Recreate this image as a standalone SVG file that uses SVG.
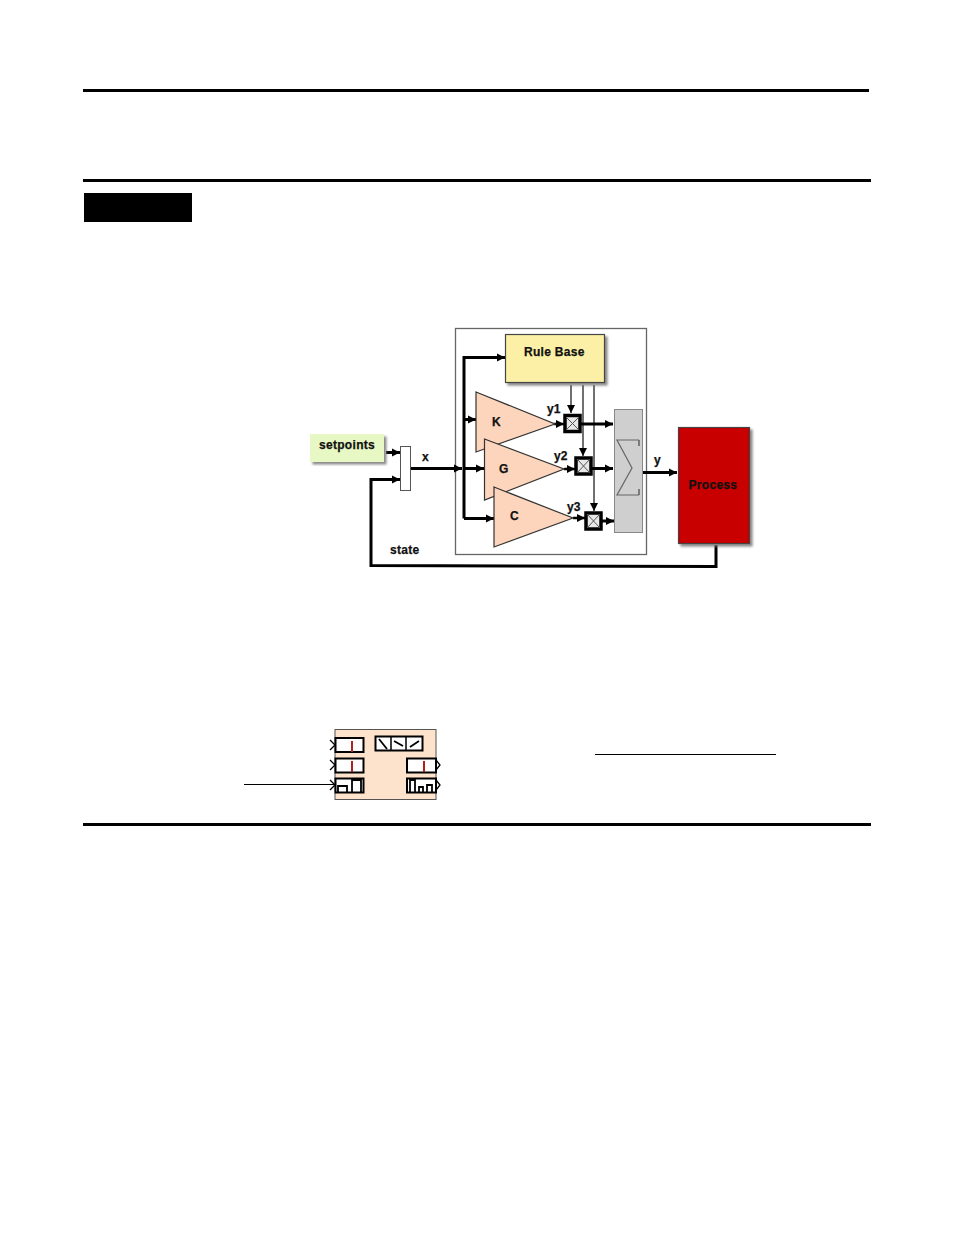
<svg xmlns="http://www.w3.org/2000/svg" width="954" height="1235" viewBox="0 0 954 1235">
<style>
text{font-family:"Liberation Sans",Arial,sans-serif;font-weight:bold;font-size:12px;fill:#111;stroke:#111;stroke-width:.25}
.w{letter-spacing:.3px}
.th{fill:none;stroke:#000;stroke-width:3}
.md{fill:none;stroke:#000;stroke-width:2.500}
.tn{fill:none;stroke:#222;stroke-width:1.300}
.tri{fill:#fdd5bc;stroke:#333;stroke-width:1.200}
.mul{fill:#e8e8e8;stroke:#000;stroke-width:3.500}
.x{fill:none;stroke:#555;stroke-width:1}
.k{stroke:#000;stroke-width:2}
.red{stroke:#b02020;stroke-width:2;fill:none}
.b{fill:none;stroke:#000;stroke-width:1.800}
</style>
<defs>
<marker id="a" markerUnits="userSpaceOnUse" markerWidth="9" markerHeight="9" refX="8" refY="4.500" orient="auto"><path d="M0 0.500L8 4.500L0 8.500z" fill="#000"/></marker>
<filter id="s" x="-10%" y="-10%" width="125%" height="125%"><feDropShadow dx="2.500" dy="2.500" stdDeviation="0.800" flood-color="#777" flood-opacity=".85"/></filter>
</defs>
<g id="page-rules">
<rect x="83" y="89" width="786" height="3" fill="#000"/>
<rect x="83" y="179" width="788" height="3" fill="#000"/>
<rect x="84" y="193" width="108" height="29" fill="#000"/>
<rect x="83" y="823" width="788" height="3" fill="#000"/>
<rect x="595" y="754" width="181" height="1" fill="#000"/>
</g>
<g id="container"><rect x="455.500" y="328.500" width="191" height="226" fill="#fff" stroke="#666" stroke-width="1.300"/></g>
<g id="connectors">
<path class="th" d="M386 452.500H400" marker-end="url(#a)"/>
<path class="th" d="M411 468.500H462" marker-end="url(#a)"/>
<path class="th" d="M716 545V566.500L371 565.500V479.500H400" marker-end="url(#a)"/>
<path class="th" d="M464 468.500H484" marker-end="url(#a)"/>
<path class="th" d="M464 518.500V357.500H505" marker-end="url(#a)"/>
<path class="th" d="M464 419.500H476" marker-end="url(#a)"/>
<path class="th" d="M464 518.500H494" marker-end="url(#a)"/>
<path class="md" d="M554 424H564" marker-end="url(#a)"/>
<path class="md" d="M564 469H575" marker-end="url(#a)"/>
<path class="md" d="M573 518H585" marker-end="url(#a)"/>
<path class="tn" d="M571 385V413" marker-end="url(#a)"/>
<path class="tn" d="M583 385V456" marker-end="url(#a)"/>
<path class="tn" d="M594 385V511" marker-end="url(#a)"/>
<path class="th" d="M581 424H613" marker-end="url(#a)"/>
<path class="th" d="M592 468.500H613" marker-end="url(#a)"/>
<path class="th" d="M602 521H614" marker-end="url(#a)"/>
<path class="th" d="M643 472.500H677" marker-end="url(#a)"/>
<path d="M244 784.500H335" fill="none" stroke="#000" stroke-width="1"/>
</g>
<g id="setpoints"><rect x="310" y="434" width="74" height="28" fill="#e8f8c4" filter="url(#s)"/><text class="w" x="319" y="449">setpoints</text></g>
<g id="mux"><rect x="400.500" y="446.500" width="10" height="44" fill="#fff" stroke="#555" stroke-width="1"/></g>
<g id="x-label"><text x="422" y="461">x</text></g>
<g id="state-label"><text class="w" x="390" y="554">state</text></g>
<g id="rule-base"><rect x="505.500" y="334.500" width="99" height="48" fill="#fbf0a6" stroke="#444" stroke-width="1.200" filter="url(#s)"/><text class="w" x="524" y="356">Rule Base</text></g>
<g id="k"><path class="tri" d="M476 392L555 424L476 452z"/><text x="492" y="426">K</text></g>
<g id="g"><path class="tri" d="M484.500 439L564 469L484.500 500z"/><text x="499" y="473">G</text></g>
<g id="c"><path class="tri" d="M494 487L573 518L494 547z"/><text x="510" y="520">C</text></g>
<g id="y1-label"><text x="547" y="413">y1</text></g>
<g id="y2-label"><text x="554" y="460">y2</text></g>
<g id="y3-label"><text x="567" y="511">y3</text></g>
<g id="mul1"><rect x="565" y="415.500" width="15" height="16" class="mul"/><path class="x" d="M566 417L579 430M579 417L566 430"/></g>
<g id="mul2"><rect x="576" y="458" width="15" height="16" class="mul"/><path class="x" d="M577 459L590 473M590 459L577 473"/></g>
<g id="mul3"><rect x="586" y="513" width="15" height="16" class="mul"/><path class="x" d="M587 514L600 528M600 514L587 528"/></g>
<g id="sum"><rect x="614.500" y="409.500" width="28" height="123" fill="#cfcfcf" stroke="#888" stroke-width="1"/><path d="M639 440H617L632 468L617 495H639" fill="none" stroke="#666" stroke-width="1.200"/><path d="M639 440V446M639 495V489" stroke="#444" stroke-width="1.200"/></g>
<g id="y-label"><text x="654" y="464">y</text></g>
<g id="process"><rect x="678.500" y="427.500" width="71" height="116" fill="#c90000" stroke="#444" stroke-width="1.200" filter="url(#s)"/><text class="w" x="688.500" y="489">Process</text></g>
<g id="block">
<rect x="335" y="729.500" width="101" height="70" fill="#fde3cb" stroke="#555" stroke-width="1"/>
<rect x="335.500" y="738" width="28" height="14" fill="#fff" class="k"/><path class="red" d="M352 741V752"/>
<rect x="335.500" y="758.500" width="28" height="14" fill="#fff" class="k"/><path class="red" d="M352 761V772"/>
<rect x="335.500" y="778.500" width="28" height="14" fill="#fff" class="k"/><path class="b" d="M338 793V786H347V793M352 793V780H361V793"/>
<rect x="375.500" y="736.500" width="47" height="14" fill="#fff" class="k"/><path d="M391 737V750M406 737V750" stroke="#000" stroke-width="1.500"/>
<path class="b" d="M379 739L387 749M394 741L403 746M410 747L419 741"/>
<rect x="407" y="758.500" width="29" height="14" fill="#fff" class="k"/><path class="red" d="M424 761V772"/>
<rect x="407" y="778.500" width="29" height="14" fill="#fff" class="k"/><path class="b" d="M410 793V780H415V793M419 793V787H423V793M427 793V785H432V793"/>
<path d="M330 740L335 745L330 750M330 760L335 765L330 770M330 780L335 785L330 790M436 760L440 765L436 770M436 780L440 785L436 790" fill="none" stroke="#000" stroke-width="1.300"/>
</g>
</svg>
